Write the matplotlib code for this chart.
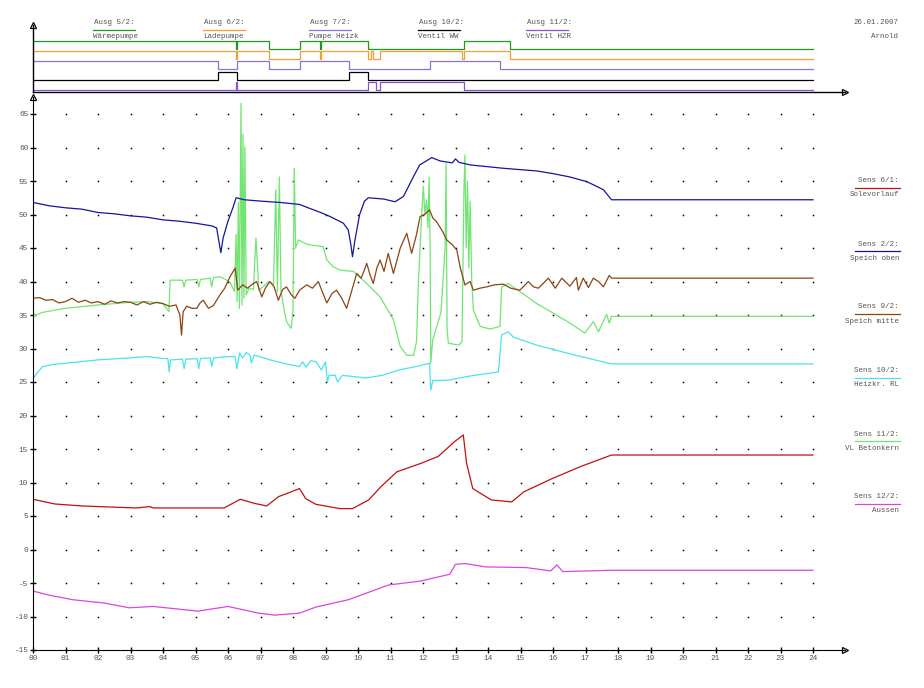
import matplotlib
matplotlib.use("Agg")
import matplotlib.pyplot as plt
from matplotlib.lines import Line2D

plt.rcParams['font.family'] = ['Liberation Mono', 'DejaVu Sans Mono']
plt.rcParams['axes.unicode_minus'] = False

# --- digital outputs (top strip): switching times [h] and states ---
out_names = ["Ausg 5/2:", "Ausg 6/2:", "Ausg 7/2:", "Ausg 10/2:", "Ausg 11/2:"]
out_desc = ["Wärmepumpe", "Ladepumpe", "Pumpe Heizk", "Ventil WW", "Ventil HZR"]
out_colors = ["#1f9a1f", "#f0a030", "#9070d8", "#000000", "#8c50d8"]

wp_t = [0, 6.25, 6.29, 7.25, 8.22, 8.82, 8.86, 10.32, 13.27, 14.69, 24]
wp_s = [1, 0, 1, 0, 1, 0, 1, 0, 1, 0, 0]
lp_t = [0, 6.25, 6.29, 7.25, 8.22, 8.82, 8.86, 10.32, 10.40, 10.47, 10.69, 13.21, 13.27, 14.69, 24]
lp_s = [1, 0, 1, 0, 1, 0, 1, 0, 1, 0, 1, 0, 1, 0, 0]
ph_t = [0, 5.70, 6.27, 7.25, 8.22, 9.71, 12.22, 14.38, 24]
ph_s = [1, 0, 1, 0, 1, 0, 1, 0, 0]
ww_t = [0, 5.70, 6.27, 9.71, 10.32, 24]
ww_s = [0, 1, 0, 1, 0, 0]
hzr_t = [0, 6.25, 6.29, 10.32, 10.54, 10.69, 13.27, 24]
hzr_s = [0, 1, 0, 1, 0, 1, 0, 0]

# --- sensors (main chart), time [h] / temperature [°C] ---
sens_names = ["Sens 6/1:", "Sens 2/2:", "Sens 9/2:", "Sens 10/2:", "Sens 11/2:", "Sens 12/2:"]
sens_desc = ["Solevorlauf", "Speich oben", "Speich mitte", "Heizkr. RL", "VL Betonkern", "Aussen"]
sens_colors = ["#c01010", "#1414a0", "#8b4513", "#48e4ee", "#72e472", "#dd44e0"]

sole_t = [0, 0.66, 1.5, 3.17, 3.6, 3.7, 5.88, 6.38, 6.8, 7.19, 7.56, 7.94, 8.2, 8.39, 8.7, 9.45,
          9.83, 10.33, 10.71, 11.2, 11.96, 12.47, 12.97, 13.24, 13.34, 13.53, 14.1, 14.73, 15.1,
          15.98, 16.86, 17.8, 24]
sole_v = [7.5, 6.8, 6.5, 6.2, 6.4, 6.2, 6.2, 7.5, 6.9, 6.5, 7.9, 8.6, 9.1, 7.6, 6.75, 6.1,
          6.1, 7.4, 9.4, 11.6, 12.9, 13.9, 16.1, 17.1, 12.9, 9.1, 7.4, 7.1, 8.6,
          10.6, 12.4, 14.1, 14.1]

oben_t = [0, 0.5, 1.0, 1.5, 2.0, 2.5, 3.0, 3.5, 4.0, 4.5, 5.0, 5.5, 5.65, 5.72, 5.78, 5.85,
          6.0, 6.15, 6.25, 6.5, 7.0, 7.6, 8.2, 8.52, 8.85, 9.14, 9.55, 9.7, 9.78, 9.83, 9.9,
          10.05, 10.2, 10.32, 10.8, 11.14, 11.4, 11.7, 11.9, 12.27, 12.52, 12.9, 13.0, 13.1,
          13.45, 14.47, 15.5, 16.0, 16.52, 17.04, 17.3, 17.55, 17.8, 24]
oben_v = [51.8, 51.3, 51.0, 50.8, 50.3, 50.1, 49.8, 49.6, 49.2, 49.0, 48.7, 48.3, 48.0, 46.0, 44.3, 46.5,
          49.0, 51.0, 52.5, 52.2, 52.0, 51.8, 51.5, 50.9, 50.3, 49.7, 48.7, 47.7, 45.5, 43.7, 46.0,
          50.0, 52.0, 52.5, 52.3, 51.9, 52.7, 55.6, 57.4, 58.5, 58.0, 57.7, 58.3, 57.8,
          57.4, 56.9, 56.5, 56.1, 55.6, 54.9, 54.3, 53.7, 52.2, 52.2]

mitte_t = [0, 0.2, 0.4, 0.6, 0.8, 1.0, 1.2, 1.4, 1.6, 1.8, 2.0, 2.2, 2.4, 2.6, 2.8, 3.0, 3.2,
           3.4, 3.6, 3.8, 4.0, 4.2, 4.4, 4.52, 4.57, 4.62, 4.73, 4.9, 5.04, 5.14, 5.24, 5.4,
           5.55, 5.75, 5.9, 6.06, 6.22, 6.3, 6.45, 6.6, 6.75, 6.88, 7.04, 7.15, 7.29, 7.42,
           7.55, 7.68, 7.8, 7.95, 8.06, 8.2, 8.42, 8.6, 8.78, 8.9, 9.04, 9.2, 9.34, 9.5,
           9.65, 9.8, 9.96, 10.1, 10.27, 10.37, 10.47, 10.58, 10.68, 10.8, 10.93, 11.09,
           11.3, 11.5, 11.65, 11.8, 11.91, 12.05, 12.2, 12.3, 12.42, 12.6, 12.73, 12.9,
           13.04, 13.15, 13.29, 13.45, 13.55, 13.75, 13.96, 14.2, 14.47, 14.7, 14.98,
           15.24, 15.4, 15.55, 15.86, 16.07, 16.27, 16.52, 16.72, 16.78, 16.93, 17.09,
           17.24, 17.4, 17.55, 17.73, 17.8, 24]
mitte_v = [37.5, 37.6, 37.2, 37.3, 36.8, 37.0, 37.5, 36.9, 37.2, 36.8, 37.0, 36.6, 37.1, 36.8, 37.0, 36.9, 36.5,
           37.0, 36.6, 36.9, 36.7, 36.3, 36.5, 35.0, 32.0, 35.5, 36.3, 36.0, 36.0, 36.8, 37.2, 36.0,
           36.4, 38.0, 39.0, 40.7, 42.0, 38.7, 39.5, 39.0, 39.6, 40.0, 37.7, 39.0, 40.0, 39.2,
           37.2, 38.8, 39.2, 38.0, 37.5, 38.7, 39.5, 39.0, 40.0, 38.5, 36.8, 38.2, 38.7, 37.5,
           36.0, 38.5, 41.2, 40.5, 42.7, 41.0, 39.7, 42.0, 43.2, 41.5, 44.2, 41.2,
           45.0, 47.2, 44.2, 47.0, 49.7, 50.0, 50.7, 49.5, 48.9, 47.5, 46.2, 45.5,
           44.7, 42.0, 39.5, 40.0, 38.7, 39.0, 39.2, 39.5, 39.6, 39.0, 38.7,
           40.0, 39.2, 39.0, 40.5, 39.0, 40.5, 39.3, 40.6, 38.7, 40.5, 39.1,
           40.5, 40.0, 39.2, 40.9, 40.5, 40.5]

rl_t = [0, 0.15, 0.3, 0.6, 1.0, 2.0, 3.0, 3.5, 4.0, 4.15, 4.19, 4.23, 4.6, 4.65, 4.7, 5.05,
        5.1, 5.15, 5.45, 5.5, 5.55, 6.0, 6.22, 6.27, 6.36, 6.45, 6.56, 6.68, 6.72, 6.8, 6.96,
        7.3, 7.7, 8.2, 8.3, 8.4, 8.55, 8.72, 8.87, 9.0, 9.06, 9.11, 9.3, 9.37, 9.52, 10.24,
        10.75, 11.27, 11.78, 12.2, 12.24, 12.3, 12.82, 13.33, 13.73, 14.32, 14.42, 14.62,
        14.78, 15.5, 16.52, 17.8, 24]
rl_v = [25.5, 26.5, 27.3, 27.6, 27.8, 28.3, 28.6, 28.8, 28.5, 28.5, 26.5, 28.3, 28.4, 27.0, 28.4, 28.5,
        27.0, 28.5, 28.6, 27.3, 28.6, 28.8, 28.8, 27.0, 29.3, 28.6, 29.4, 29.0, 27.8, 29.0, 28.8,
        28.3, 27.8, 27.3, 28.0, 27.2, 28.2, 28.0, 26.8, 28.0, 25.0, 26.0, 26.0, 25.0, 26.0, 25.6,
        26.0, 26.8, 27.3, 27.8, 23.8, 25.2, 25.3, 25.8, 26.1, 26.5, 32.0, 32.5,
        31.7, 30.5, 29.2, 27.7, 27.7]

vl_t = [0, 0.05, 0.3, 1.0, 2.0, 3.0, 3.5, 4.0, 4.18, 4.22, 4.6, 4.65, 4.7, 5.05, 5.1, 5.15,
        5.45, 5.5, 5.55, 5.75, 6.05, 6.2, 6.25, 6.28, 6.32, 6.35, 6.40, 6.43, 6.46, 6.49,
        6.52, 6.56, 6.65, 6.78, 6.86, 6.95, 7.1, 7.25, 7.4, 7.47, 7.52, 7.58, 7.63, 7.7,
        7.8, 7.95, 8.0, 8.04, 8.08, 8.17, 8.4, 8.62, 8.93, 9.04, 9.24, 9.45, 9.86, 10.27,
        10.68, 11.09, 11.3, 11.5, 11.71, 11.8, 11.86, 11.95, 12.01, 12.06, 12.11, 12.15,
        12.19, 12.22, 12.24, 12.3, 12.55, 12.68, 12.71, 12.74, 12.78, 13.1, 13.2, 13.26,
        13.29, 13.33, 13.37, 13.41, 13.45, 13.5, 13.55, 13.76, 14.06, 14.37, 14.42, 14.62,
        14.98, 15.5, 16.0, 16.52, 16.98, 17.24, 17.4, 17.65, 17.73, 17.8, 24]
vl_v = [35.7, 34.9, 35.4, 36.0, 36.5, 36.9, 37.0, 36.7, 35.5, 40.2, 40.2, 39.2, 40.2, 40.3, 39.2, 40.3,
        40.5, 39.2, 40.6, 40.7, 40.0, 38.5, 47.0, 37.0, 51.8, 36.0, 66.6, 36.5, 62.0, 37.5,
        60.1, 38.0, 39.0, 38.8, 46.5, 38.7, 39.3, 40.0, 39.5, 53.7, 38.5, 55.6, 38.7, 36.5,
        34.0, 33.0, 36.0, 56.9, 45.0, 46.2, 45.6, 45.4, 45.2, 43.2, 42.2, 41.7, 41.5, 39.7,
        37.7, 34.3, 30.3, 29.0, 29.0, 31.0, 40.0, 49.0, 54.2, 50.0, 52.2, 48.0,
        55.6, 45.0, 27.8, 31.3, 35.3, 45.0, 57.6, 33.0, 30.8, 30.5, 31.0, 53.7,
        58.9, 45.0, 55.0, 42.0, 52.0, 40.0, 35.7, 33.3, 32.9, 33.3, 39.2, 39.7,
        38.5, 36.7, 35.3, 33.8, 32.3, 34.0, 32.5, 35.1, 33.8, 34.8, 34.8]

aussen_t = [0, 0.48, 1.23, 2.2, 2.96, 3.7, 5.07, 6.0, 6.94, 7.44, 8.2, 8.7, 9.7, 10.94, 11.94,
            12.82, 13.0, 13.3, 13.93, 15.18, 15.93, 16.12, 16.3, 17.8, 24]
aussen_v = [-6.2, -6.8, -7.5, -8.0, -8.7, -8.5, -9.2, -8.5, -9.5, -9.8, -9.5, -8.6, -7.5, -5.3, -4.7,
            -3.7, -2.2, -2.1, -2.6, -2.7, -3.2, -2.3, -3.3, -3.1, -3.1]

W, H = 924, 688
fig = plt.figure(figsize=(W / 100, H / 100), dpi=100)
fig.patch.set_facecolor('white')
txt = dict(fontsize=5.4, color='#555555')


def px(x, y):
    return x / W, 1 - y / H


def arrows(ax):
    ax.plot(0, 1, marker='^', ms=5, mfc='white', mec='black', mew=0.9,
            transform=ax.transAxes, clip_on=False)
    ax.plot(1, 0, marker='>', ms=5, mfc='white', mec='black', mew=0.9,
            transform=ax.transAxes, clip_on=False)


# top strip with switching outputs
ax_top = fig.add_axes([33 / W, 1 - 92 / H, 812 / W, 67 / H])
ax_top.set_xlim(0, 812 / 32.5)
ax_top.set_ylim(0, 67)
levels = [43, 33, 23, 12, 2]
sigs = [(wp_t, wp_s), (lp_t, lp_s), (ph_t, ph_s), (ww_t, ww_s), (hzr_t, hzr_s)]
for (t, s), base, c in zip(sigs, levels, out_colors):
    ax_top.plot(t, [base + 8.5 * v for v in s], drawstyle='steps-post', color=c, lw=0.9)
for side in ['top', 'right']:
    ax_top.spines[side].set_visible(False)
for side in ['left', 'bottom']:
    ax_top.spines[side].set_linewidth(1.0)
ax_top.set_xticks([])
ax_top.set_yticks([])
arrows(ax_top)

# header labels for the outputs
out_x = [93, 203, 309, 418, 526]
for x0, name, desc, c in zip(out_x, out_names, out_desc, out_colors):
    fig.text(*px(x0 + 1, 23), name, ha='left', va='center', **txt)
    fig.add_artist(Line2D([x0 / W, (x0 + 42) / W], [1 - 29.5 / H, 1 - 29.5 / H],
                          color=c, lw=0.9, transform=fig.transFigure))
    fig.text(*px(x0, 36), desc, ha='left', va='center', **txt)
fig.text(*px(898, 23), "26.01.2007", ha='right', va='center', **txt)
fig.text(*px(898, 36), "Arnold", ha='right', va='center', **txt)

# main chart
ax = fig.add_axes([33 / W, 1 - 650 / H, 812 / W, 553 / H])
ax.set_xlim(0, 812 / 32.5)
ax.set_ylim(-15, -15 + 553 / 6.7)

# dotted grid
for h in range(1, 25):
    ax.plot([h] * 16, list(range(-10, 66, 5)), ls='none', marker='s', ms=1.1,
            mew=0, color='black')

series = [(sole_t, sole_v), (oben_t, oben_v), (mitte_t, mitte_v),
          (rl_t, rl_v), (vl_t, vl_v), (aussen_t, aussen_v)]
order = [3, 4, 1, 2, 0, 5]
for i in order:
    t, v = series[i]
    ax.plot(t, v, color=sens_colors[i], lw=0.9)

for side in ['top', 'right']:
    ax.spines[side].set_visible(False)
ax.set_xticks(range(0, 25))
ax.set_xticklabels(["%02d" % h for h in range(0, 25)])
ax.set_yticks(range(-15, 66, 5))
ax.tick_params(direction='inout', length=5, width=1, labelsize=5.6,
               labelcolor='#555555', pad=1)
arrows(ax)

# right legend for sensors
leg_y = [181, 244, 307, 371, 434, 497]
for y0, name, desc, c in zip(leg_y, sens_names, sens_desc, sens_colors):
    fig.text(*px(899, y0), name, ha='right', va='center', **txt)
    fig.add_artist(Line2D([855 / W, 900 / W], [1 - (y0 + 7) / H, 1 - (y0 + 7) / H],
                          color=c, lw=0.9, transform=fig.transFigure))
    fig.text(*px(899, y0 + 14), desc, ha='right', va='center', **txt)

fig.savefig("out.png", dpi=100)
